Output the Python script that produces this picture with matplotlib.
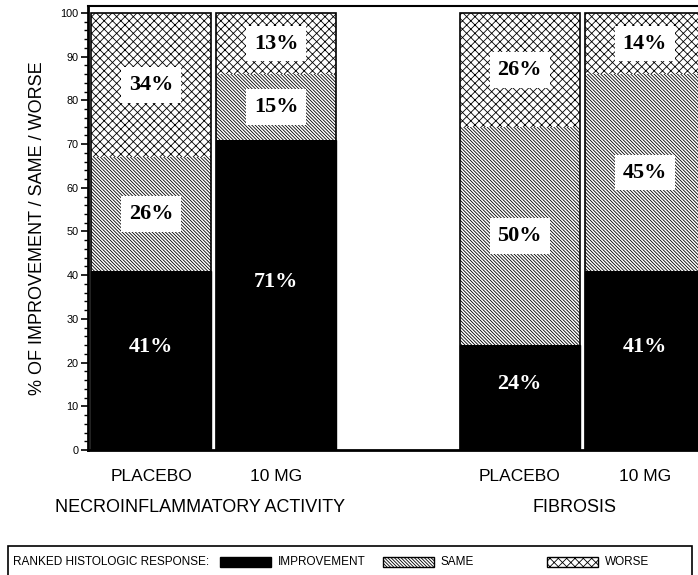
import matplotlib
matplotlib.use('Agg')
import matplotlib.pyplot as plt
from matplotlib.patches import Rectangle
from matplotlib.ticker import MultipleLocator
import matplotlib.transforms as mtransforms
import numpy as np

plt.rcParams['font.family'] = ['Liberation Sans', 'DejaVu Sans']
plt.rcParams['hatch.linewidth'] = 0.6

# --- data (percent of patients) ---
groups = ['NECROINFLAMMATORY ACTIVITY', 'FIBROSIS']
arms = ['PLACEBO', '10 MG', 'PLACEBO', '10 MG']
improvement = [41, 71, 24, 41]
same = [26, 15, 50, 45]
worse = [34, 13, 26, 14]

# --- layout ---
W, H = 698, 575
x = np.array([0, 1, 2.95, 3.95])
bw = 0.96
hatch_same = '\\' * 10
hatch_worse = 'xxxx'
serif = {'family': 'Liberation Serif', 'weight': 'bold', 'size': 16}

fig = plt.figure(figsize=(W / 100, H / 100), dpi=100)
ax = fig.add_axes([88 / W, 125 / H, 610 / W, 444 / H])

imp = np.array(improvement)
sm = np.array(same)
top_same = imp + sm
worse_h = 100 - top_same

# segments without inner borders, then one outline around each stack
ax.bar(x, imp, bw, color='black', edgecolor='black', lw=1)
ax.bar(x, sm, bw, bottom=imp, color='white', edgecolor='black', lw=0, hatch=hatch_same)
ax.bar(x, worse_h, bw, bottom=top_same, color='white', edgecolor='black', lw=0, hatch=hatch_worse)
ax.bar(x, imp + sm + worse_h, bw, fill=False, edgecolor='black', lw=1.2)

box = dict(boxstyle='square,pad=0.35', facecolor='white', edgecolor='none')
for i in range(len(x)):
    ax.text(x[i], imp[i] / 2 + 3, f'{improvement[i]}%', color='white',
            ha='center', va='center', fontdict=serif)
    ax.text(x[i], imp[i] + sm[i] / 2, f'{same[i]}%', color='black',
            ha='center', va='center', fontdict=serif, bbox=box)
    ax.text(x[i], top_same[i] + worse_h[i] / 2, f'{worse[i]}%', color='black',
            ha='center', va='center', fontdict=serif, bbox=box)

ax.set_xlim(-0.504, -0.504 + 610 / 125)
ax.set_ylim(0, 101.6)
ax.yaxis.set_major_locator(MultipleLocator(10))
ax.yaxis.set_minor_locator(MultipleLocator(2))
ax.tick_params(axis='y', which='major', direction='out', length=5, width=1.2, labelsize=7.8, pad=2)
ax.tick_params(axis='y', which='minor', direction='out', length=3, width=1)
ax.set_xticks(x, arms)
ax.tick_params(axis='x', length=0, labelsize=12.5, pad=14)
ax.set_ylabel('% OF IMPROVEMENT / SAME / WORSE', fontsize=13, labelpad=10)

ax.spines['right'].set_visible(False)
ax.spines['top'].set_linewidth(1.5)
ax.spines['left'].set_linewidth(2)
ax.spines['bottom'].set_linewidth(2)

# group names under the arm labels
trans = mtransforms.blended_transform_factory(ax.transData, ax.transAxes)
centers = [(x[0] + x[1]) / 2 - 0.11, (x[2] + x[3]) / 2 - 0.06]
for c, g in zip(centers, groups):
    ax.text(c, -0.1306, g, transform=trans, ha='center', va='center', fontsize=13)

# --- legend strip, drawn in figure pixels ---
def fx(px):
    return px / W

def fy(py):
    return (H - py) / H

fig.patches.append(Rectangle((fx(8), fy(576)), fx(692) - fx(8), fy(546) - fy(576),
                             transform=fig.transFigure, fill=False, edgecolor='black', lw=1.2))
fig.text(fx(13), fy(562), 'RANKED HISTOLOGIC RESPONSE:', ha='left', va='center', fontsize=8.5)

legend_items = [('IMPROVEMENT', 220, 'black', None),
                ('SAME', 383, 'white', hatch_same),
                ('WORSE', 547, 'white', hatch_worse)]
for label, px, fc, h in legend_items:
    fig.patches.append(Rectangle((fx(px), fy(567)), fx(51), fy(557) - fy(567),
                                 transform=fig.transFigure, facecolor=fc,
                                 edgecolor='black', lw=1, hatch=h))
    fig.text(fx(px + 58), fy(562), label, ha='left', va='center', fontsize=8.5)

fig.savefig('out.png', dpi=100)
